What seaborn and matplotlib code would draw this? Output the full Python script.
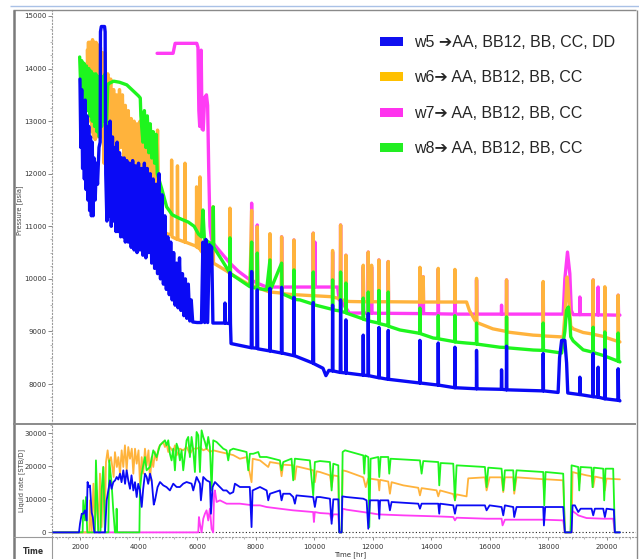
import matplotlib
matplotlib.use("Agg")
import matplotlib.pyplot as plt
import seaborn as sns
import pandas as pd
from matplotlib.patches import Patch
from matplotlib.lines import Line2D
from matplotlib.ticker import MultipleLocator
from matplotlib.font_manager import FontProperties

# ---------------- data ----------------
WELLS = ["w5", "w6", "w7", "w8"]
LEGEND_LABELS = ["w5 \u2794AA, BB12, BB, CC, DD", "w6\u2794 AA, BB12, BB, CC",
                 "w7\u2794 AA, BB12, BB, CC", "w8\u2794 AA, BB12, BB, CC"]
LINE_COLORS = {"w5": "#0a0af5", "w6": "#ffb33c", "w7": "#ff3cf5", "w8": "#1ef51e"}
PATCH_COLORS = ["#1010f0", "#ffc000", "#ff33ee", "#22ee22"]
DRAW_ORDER = ["w7", "w6", "w8", "w5"]

# pressure [psia] vs time [hr]
W5_PRESSURE = [
    (2000, 13800), (2030, 12500), (2060, 13600), (2090, 12100), (2120, 13300), (2150, 11900),
    (2180, 13400), (2210, 11700), (2240, 13100), (2270, 11500), (2300, 12900), (2330, 11300),
    (2360, 12700), (2390, 11200), (2420, 12600), (2450, 11200), (2480, 12300), (2520, 11500),
    (2560, 12200), (2600, 11800), (2650, 12500), (2690, 12600), (2700, 14700), (2730, 14800),
    (2840, 14800), (2860, 14700), (2880, 12000), (2920, 11100), (2950, 12900), (2990, 11200),
    (3030, 13000), (3070, 11000), (3110, 12700), (3150, 11100), (3190, 12500), (3230, 10900),
    (3270, 12600), (3310, 10900), (3350, 12400), (3390, 10800), (3430, 12300), (3470, 10800),
    (3510, 12300), (3550, 10700), (3600, 12250), (3650, 10700), (3700, 12200), (3750, 10600),
    (3800, 12250), (3850, 10550), (3900, 12150), (3950, 10500), (4000, 12200), (4050, 10550),
    (4100, 12100), (4150, 10450), (4200, 12200), (4250, 10400), (4300, 12100), (4350, 10500),
    (4400, 12000), (4450, 10300), (4500, 11900), (4550, 10200), (4600, 11800), (4650, 10100),
    (4700, 12000), (4750, 10000), (4800, 11600), (4850, 9900), (4900, 11200), (4950, 9800),
    (5000, 10800), (5050, 9700), (5100, 10700), (5150, 9600), (5200, 10500), (5250, 9500),
    (5300, 10300), (5350, 9450), (5400, 10400), (5450, 9400), (5500, 10100), (5550, 9300),
    (5600, 10000), (5650, 9250), (5700, 9900), (5750, 9200), (5800, 9600), (5850, 9180),
    (6000, 9170), (6150, 9170), (6200, 10700), (6260, 9170), (6300, 10750), (6360, 9170),
    (6420, 10650), (6500, 10600), (6540, 9160), (6940, 9160), (6953, 9540), (6970, 9160),
    (7110, 9150), (7124, 10120), (7140, 9150), (7160, 8770), (7850, 8690), (7863, 10140),
    (7880, 8690), (8040, 8680), (8056, 9790), (8070, 8670), (8480, 8630), (8489, 9820),
    (8500, 8630), (8880, 8590), (8887, 9840), (8900, 8590), (9300, 8540), (9308, 9650),
    (9320, 8540), (9950, 8400), (9968, 9550), (9980, 8390), (10300, 8300), (10400, 8160),
    (10500, 8260), (10620, 8250), (10628, 9500), (10640, 8250), (10890, 8220), (10901, 9600),
    (10915, 8220), (11075, 8210), (11083, 9220), (11095, 8210), (11665, 8170), (11675, 8930),
    (11685, 8170), (11840, 8160), (11846, 9340), (11855, 8160), (12200, 8120), (12210, 9075),
    (12220, 8120), (12520, 8090), (12529, 9020), (12540, 8090), (13600, 8020), (13610, 8830),
    (13620, 8020), (14230, 7980), (14236, 8780), (14245, 7980), (14800, 7930), (14805, 8700),
    (14815, 7930), (15540, 7910), (15544, 8640), (15555, 7910), (16390, 7900), (16398, 8270),
    (16410, 7900), (16560, 7890), (16569, 8720), (16580, 7890), (17815, 7870), (17820, 8580),
    (17830, 7870), (18330, 7840), (18380, 8500), (18450, 8830), (18560, 8830), (18620, 8400),
    (18660, 7830), (19065, 7800), (19072, 8130), (19080, 7800), (19520, 7760), (19527, 8580),
    (19535, 7760), (19690, 7750), (19698, 8320), (19705, 7750), (19920, 7720), (19926, 8650),
    (19935, 7720), (20375, 7690), (20381, 8290), (20395, 7690), (20440, 7680),
]
W6_PRESSURE = [
    (2250, 14350), (2270, 13500), (2290, 14500), (2310, 13200), (2330, 14500), (2350, 13000),
    (2370, 14500), (2400, 12800), (2430, 14550), (2460, 12700), (2490, 14500), (2520, 12650),
    (2550, 14500), (2580, 12700), (2620, 14450), (2660, 12800), (2700, 14400), (2740, 12700),
    (2780, 14300), (2820, 12200), (2860, 14300), (2900, 12100), (2950, 13900), (3000, 12300),
    (3050, 13800), (3100, 12200), (3150, 13600), (3200, 12400), (3250, 13500), (3300, 12300),
    (3350, 13600), (3400, 12500), (3450, 13500), (3500, 12300), (3550, 13300), (3600, 12200),
    (3650, 13200), (3700, 12100), (3750, 13050), (3800, 12200), (3850, 13000), (3900, 12000),
    (3950, 12950), (4000, 11900), (4050, 13000), (4100, 11800), (4150, 12900), (4200, 11700),
    (4250, 12800), (4300, 11600), (4350, 12700), (4400, 11500), (4450, 12800), (4500, 11300),
    (4550, 12700), (4600, 11200), (4650, 12830), (4700, 11000), (4850, 10900), (5000, 10850),
    (5120, 10850), (5130, 12260), (5145, 10800), (5320, 10750), (5330, 12150), (5345, 10750),
    (5580, 10700), (5587, 12200), (5600, 10700), (5975, 10620), (5983, 11750), (5995, 10600),
    (6090, 10580), (6099, 11940), (6110, 10550), (6327, 10400), (6535, 10350), (6543, 11370),
    (6560, 10300), (7009, 10150), (7110, 10110), (7123, 11345), (7140, 10100), (7806, 9880),
    (7863, 11300), (7880, 9870), (8050, 9840), (8056, 10990), (8070, 9830), (8480, 9750),
    (8489, 10860), (8500, 9750), (8880, 9730), (8887, 10800), (8900, 9720), (9300, 9700),
    (9308, 10740), (9320, 9700), (9960, 9680), (9968, 10870), (9980, 9680), (10620, 9660),
    (10628, 10540), (10640, 9655), (10890, 9620), (10901, 11025), (10915, 9610), (11075, 9580),
    (11083, 10450), (11095, 9575), (11200, 9570), (11665, 9565), (11675, 10260), (11690, 9565),
    (11840, 9565), (11846, 10510), (11860, 9565), (11955, 9565), (11960, 10260), (11970, 9565),
    (12200, 9565), (12210, 10360), (12220, 9565), (12520, 9565), (12529, 10330), (12540, 9565),
    (13600, 9560), (13610, 10220), (13620, 9560), (13715, 9560), (13724, 10040), (13735, 9560),
    (14230, 9560), (14236, 10200), (14245, 9560), (14800, 9560), (14805, 10180), (14815, 9560),
    (15203, 9560), (15300, 9400), (15500, 9200), (15540, 9180), (15544, 10010), (15555, 9170),
    (16100, 9050), (16560, 9000), (16569, 9980), (16580, 8990), (17479, 8930), (17815, 8920),
    (17820, 9950), (17830, 8915), (18503, 8895), (18560, 9300), (18640, 10035), (18700, 9600),
    (18760, 9100), (18845, 9050), (19186, 8980), (19520, 8950), (19527, 9980), (19535, 8945),
    (19920, 8900), (19926, 9850), (19935, 8890), (20375, 8810), (20381, 9690), (20395, 8805),
    (20440, 8800),
]
W7_PRESSURE = [
    (4634, 14290), (5180, 14290), (5250, 14480), (5990, 14480), (6030, 14400), (6060, 13200),
    (6090, 12900), (6140, 14350), (6170, 12850), (6210, 12830), (6260, 13450), (6320, 13500),
    (6360, 13300), (6400, 12000), (6440, 11000), (6480, 10800), (6520, 10700), (6668, 10600),
    (7000, 10380), (7123, 10300), (7400, 10150), (7806, 9980), (7850, 9975), (7863, 11440),
    (7880, 9970), (8050, 9920), (8056, 11025), (8070, 9915), (8375, 9845), (8480, 9845),
    (8489, 10835), (8500, 9845), (8880, 9845), (8887, 10800), (8900, 9845), (9300, 9845),
    (9308, 10740), (9320, 9845), (9960, 9845), (9968, 10870), (9980, 9845), (10015, 9845),
    (10025, 10700), (10035, 9845), (10620, 9845), (10628, 10510), (10640, 9845), (10800, 9845),
    (10850, 9600), (10890, 9600), (10901, 11025), (10915, 9580), (11075, 9450), (11083, 10450),
    (11095, 9440), (11200, 9350), (11665, 9350), (11675, 10225), (11690, 9350), (11840, 9350),
    (11846, 10510), (11860, 9350), (11955, 9350), (11960, 10225), (11970, 9350), (12200, 9345),
    (12210, 10360), (12220, 9345), (12520, 9345), (12529, 10330), (12540, 9345), (13600, 9340),
    (13610, 10205), (13620, 9340), (13715, 9340), (13724, 10040), (13735, 9340), (14230, 9335),
    (14236, 10180), (14245, 9335), (14800, 9330), (14805, 10160), (14815, 9330), (15540, 9330),
    (15544, 9980), (15555, 9330), (16390, 9330), (16398, 9500), (16410, 9330), (16560, 9330),
    (16569, 9980), (16580, 9330), (17815, 9330), (17820, 9920), (17830, 9330), (18503, 9330),
    (18560, 10000), (18650, 10510), (18730, 10100), (18780, 9400), (18845, 9320), (19065, 9320),
    (19072, 9655), (19080, 9320), (19520, 9320), (19527, 9980), (19535, 9320), (19690, 9315),
    (19698, 9845), (19705, 9315), (19920, 9315), (19926, 9820), (19935, 9315), (20375, 9310),
    (20381, 9690), (20395, 9310), (20440, 9310),
]
W8_PRESSURE = [
    (1990, 14220), (2030, 13600), (2060, 14150), (2100, 13400), (2140, 14100), (2180, 13300),
    (2220, 14050), (2260, 13200), (2300, 14000), (2340, 13100), (2380, 13950), (2420, 13000),
    (2460, 13900), (2500, 12900), (2540, 13900), (2580, 12800), (2620, 13850), (2660, 12700),
    (2700, 13800), (2740, 12900), (2780, 13850), (2820, 13000), (2860, 13900), (2900, 12800),
    (2950, 13700), (3000, 13720), (3150, 13760), (3350, 13740), (3600, 13690), (3850, 13560),
    (4000, 13480), (4060, 13440), (4080, 13100), (4150, 12600), (4200, 13200), (4250, 12500),
    (4300, 13100), (4350, 12400), (4400, 12950), (4450, 12300), (4500, 12800), (4550, 12200),
    (4600, 12750), (4640, 12000), (4800, 11700), (4960, 11370), (5150, 11220), (5400, 11150),
    (5700, 11080), (5900, 11000), (6050, 10850), (6150, 10800), (6200, 11310), (6250, 10750),
    (6540, 10650), (6554, 11370), (6570, 10600), (6800, 10400), (7110, 10120), (7123, 10780),
    (7140, 10100), (7806, 9850), (7863, 10700), (7880, 9840), (8050, 9820), (8056, 10490),
    (8070, 9820), (8375, 9790), (8489, 10360), (8500, 9780), (8887, 10300), (8900, 9720),
    (9300, 9620), (9308, 10170), (9320, 9610), (9513, 9600), (9960, 9520), (9968, 10130),
    (9980, 9510), (10620, 9420), (10628, 9980), (10640, 9410), (10890, 9390), (10901, 10130),
    (10915, 9380), (11075, 9360), (11083, 9920), (11095, 9350), (11665, 9240), (11675, 9635),
    (11690, 9230), (11840, 9210), (11846, 9750), (11860, 9200), (12200, 9160), (12210, 9780),
    (12220, 9150), (12520, 9110), (12529, 9750), (12540, 9100), (12927, 9028), (13600, 8965),
    (13610, 9445), (13620, 8960), (14065, 8875), (14230, 8865), (14236, 9300), (14245, 8860),
    (14800, 8805), (14805, 9300), (14815, 8800), (15203, 8780), (15540, 8765), (15544, 9160),
    (15555, 8760), (16341, 8700), (16560, 8695), (16569, 9275), (16580, 8690), (17479, 8647),
    (17815, 8640), (17820, 9160), (17830, 8640), (18450, 8590), (18560, 9000), (18617, 9400),
    (18680, 9465), (18731, 9200), (18760, 8900), (18845, 8820), (19186, 8650), (19520, 8605),
    (19527, 9080), (19535, 8600), (19920, 8535), (19926, 8990), (19935, 8530), (20375, 8435),
    (20381, 8970), (20395, 8430), (20440, 8420),
]

# liquid rate [STB/D] vs time [hr]
W5_RATE = [
    (1045, 0), (1967, 0), (2001, 2600), (2060, 5650), (2115, 5650), (2172, 6670), (2229, 3600),
    (2260, 15250), (2300, 13700), (2342, 14200), (2400, 6000), (2440, 4600), (2490, 0),
    (2855, 0), (2912, 9700), (2969, 12700), (3026, 15750), (3080, 13200), (3139, 15200),
    (3200, 15750), (3254, 16770), (3310, 16000), (3367, 17780), (3420, 15200), (3481, 18790),
    (3540, 14700), (3595, 18800), (3650, 15700), (3709, 13200), (3760, 17270), (3823, 12700),
    (3880, 15200), (3937, 10700), (3990, 14700), (4050, 12700), (4108, 7700), (4160, 13200),
    (4220, 17770), (4278, 16770), (4330, 14700), (4392, 17780), (4450, 15750), (4520, 8400),
    (4563, 9700), (4650, 13700), (4733, 15250), (4845, 14240), (4958, 13700), (5072, 12700),
    (5186, 14750), (5300, 13740), (5413, 13740), (5527, 14750), (5641, 15250), (5812, 14750),
    (5869, 12700), (5983, 16770), (6097, 14750), (6131, 9700), (6211, 16770), (6325, 15750),
    (6438, 15250), (6473, 5650), (6530, 13740), (6610, 15250), (6666, 14750), (6780, 13740),
    (6894, 12700), (7007, 12700), (7121, 11700), (7235, 12200), (7292, 14750), (7462, 13740),
    (7800, 13740), (7860, 1600), (7895, 12700), (8148, 13740), (8376, 12700), (8430, 9700),
    (8490, 11700), (8828, 12700), (8885, 9700), (8940, 11700), (9169, 11700), (9283, 10700),
    (9340, 8690), (9396, 11200), (9966, 10700), (10023, 7700), (10080, 10700), (10197, 10700),
    (10538, 10200), (10595, 2600), (10652, 10000), (10823, 10000), (10857, 0), (10937, 0),
    (10960, 10900), (11107, 10700), (11676, 10200), (11790, 9700), (11847, 1100), (11904, 9700),
    (12188, 9700), (12222, 4140), (12250, 9700), (12529, 9700), (12586, 6670), (12643, 9200),
    (13554, 8690), (13611, 7170), (13668, 8690), (14237, 8690), (14270, 5650), (14300, 8690),
    (14749, 8180), (14806, 5650), (14863, 8180), (15830, 8180), (15887, 6670), (15990, 8180),
    (16399, 7680), (16456, 5150), (16513, 8180), (16797, 7680), (16831, 4650), (16911, 7680),
    (17822, 7680), (17845, 2100), (17890, 7680), (18504, 7680), (18561, 0), (18789, 0),
    (18823, 8180), (18903, 8180), (19017, 6160), (19100, 7170), (19301, 7170), (19472, 7170),
    (19529, 5150), (19586, 7170), (19870, 7170), (19927, 4650), (19984, 7170), (20234, 6870),
    (20268, 0), (20441, 0),
]
W6_RATE = [
    (1045, 0), (2319, 0), (2342, 9700), (2400, 0), (2460, 14750), (2517, 2600), (2570, 12700),
    (2630, 600), (2683, 17800), (2740, 1600), (2797, 19800), (2850, 2100), (2888, 21300),
    (2945, 24850), (2990, 21300), (3060, 22800), (3150, 16770), (3195, 24300), (3260, 19800),
    (3310, 22800), (3367, 17780), (3424, 24850), (3480, 19800), (3536, 26360), (3595, 18800),
    (3650, 25850), (3709, 22300), (3770, 25350), (3823, 17780), (3880, 25350), (3937, 20800),
    (4000, 24850), (4050, 14700), (4108, 22800), (4160, 17780), (4220, 25350), (4278, 20300),
    (4340, 24850), (4392, 15700), (4450, 22800), (4504, 19800), (4563, 24340), (4620, 21800),
    (4680, 25350), (4731, 26360), (4845, 27370), (4902, 25850), (4958, 26870), (5015, 24340),
    (5072, 25850), (5186, 24340), (5243, 26360), (5300, 23300), (5413, 25350), (5527, 24850),
    (5641, 25850), (5755, 23800), (5869, 25350), (5983, 25350), (6097, 25750), (6211, 24850),
    (6325, 25350), (6438, 24340), (6552, 24850), (6780, 24340), (7007, 23900), (7235, 23400),
    (7462, 22300), (7690, 22800), (7860, 15200), (7900, 22300), (8148, 21800), (8430, 19800),
    (8490, 21300), (8828, 20800), (8885, 17000), (8940, 20500), (9283, 20300), (9340, 16000),
    (9396, 20000), (9966, 18800), (10023, 15200), (10080, 18500), (10197, 18270),
    (10538, 17270), (10595, 13700), (10652, 17270), (10823, 17000), (10857, 0), (10937, 0),
    (10971, 18790), (11107, 18500), (11676, 16670), (11760, 13700), (11847, 16360),
    (12188, 15900), (12222, 12700), (12250, 15900), (12529, 15400), (12586, 11700),
    (12643, 15200), (13042, 14240), (13554, 13500), (13611, 11200), (13668, 13400),
    (14180, 12730), (14237, 10900), (14300, 12700), (14749, 11600), (14806, 9700),
    (14863, 11500), (15204, 10900), (15261, 16360), (15830, 16670), (15887, 12700),
    (15990, 16670), (16399, 16670), (16456, 12200), (16513, 16670), (16797, 16670),
    (16831, 11700), (16911, 16670), (17822, 16100), (17845, 12700), (17890, 16100),
    (18504, 15760), (18561, 0), (18789, 0), (18823, 18270), (19017, 17800), (19050, 14700),
    (19100, 17700), (19301, 17270), (19472, 17000), (19529, 13700), (19586, 16900),
    (19870, 16360), (19927, 12700), (19984, 16300), (20441, 16060),
]
W7_RATE = [
    (1045, 0), (6040, 0), (6063, 4650), (6097, 2600), (6154, 0), (6211, 4140), (6268, 5650),
    (6324, 6670), (6381, 3600), (6438, 7170), (6495, 1000), (6552, 0), (6580, 11700),
    (6609, 12700), (6666, 9200), (6780, 9700), (7007, 8690), (7235, 8690), (7462, 8690),
    (7918, 8180), (8148, 8180), (8373, 7680), (8828, 7170), (9283, 6670), (9966, 6160),
    (9990, 3130), (10020, 6160), (10197, 5860), (10538, 5660), (10595, 3640), (10652, 5450),
    (10823, 5450), (10857, 0), (10937, 0), (10971, 7170), (11107, 6870), (11904, 5860),
    (12188, 5450), (13042, 5150), (14180, 4850), (14749, 4650), (14806, 3640), (14863, 4440),
    (15887, 4140), (16399, 4140), (16433, 2120), (16513, 3840), (17822, 3840), (18504, 3640),
    (18561, 0), (18755, 0), (18789, 6670), (18950, 5660), (19017, 5150), (19301, 4340),
    (19870, 4140), (20211, 4140), (20268, 0), (20441, 0),
]
W8_RATE = [
    (1045, 0), (2091, 0), (2114, 9700), (2171, 3600), (2205, 10700), (2250, 0), (2512, 0),
    (2546, 21800), (2592, 9700), (2626, 0), (2700, 0), (2740, 12700), (2797, 19800), (2853, 0),
    (2970, 0), (3001, 21800), (3081, 14700), (3138, 6670), (3195, 0), (3240, 0), (3252, 7170),
    (3270, 0), (4030, 0), (4048, 12700), (4105, 17780), (4219, 22800), (4276, 18790),
    (4390, 19800), (4504, 24850), (4617, 22800), (4731, 26360), (4902, 27880), (4958, 26360),
    (5015, 27880), (5072, 23800), (5129, 21800), (5186, 25350), (5243, 18790), (5300, 26870),
    (5356, 25350), (5413, 21800), (5470, 24850), (5527, 18790), (5641, 27880), (5698, 28900),
    (5755, 22800), (5812, 28900), (5869, 24850), (5926, 18280), (5983, 30400), (6040, 29400),
    (6097, 18280), (6154, 30900), (6211, 28900), (6268, 27370), (6325, 25350), (6381, 28900),
    (6438, 25850), (6495, 12700), (6552, 27880), (6666, 27370), (6780, 26360), (6894, 25350),
    (7007, 24850), (7064, 21800), (7121, 24850), (7235, 25350), (7462, 24850), (7690, 24340),
    (7747, 18790), (7804, 23800), (7918, 23800), (8089, 24340), (8146, 22830), (8373, 22830),
    (8828, 21800), (8885, 18790), (8942, 21300), (9226, 22320), (9283, 15750), (9340, 22320),
    (9852, 21800), (9966, 11200), (10023, 21300), (10197, 21600), (10538, 21300),
    (10595, 12700), (10652, 20800), (10823, 20300), (10857, 0), (10937, 0), (10971, 24340),
    (11051, 24850), (11676, 23300), (11710, 17780), (11744, 23300), (11847, 22800),
    (11881, 1600), (11926, 22300), (12188, 22830), (12222, 16770), (12268, 22830),
    (12529, 22830), (12563, 17780), (12609, 22300), (13611, 21800), (13668, 17780),
    (13725, 21600), (14237, 21300), (14271, 14240), (14317, 21000), (14749, 20800),
    (14806, 9700), (14863, 20300), (15830, 19800), (15887, 13700), (15944, 19600),
    (16399, 19290), (16456, 12700), (16513, 18790), (16797, 18790), (16831, 12700),
    (16911, 18790), (17822, 18280), (17856, 8180), (17902, 18280), (18504, 17780), (18561, 0),
    (18755, 0), (18789, 20300), (19017, 19800), (19051, 12700), (19097, 19800), (19472, 19600),
    (19506, 13700), (19552, 19600), (19870, 19290), (19904, 9700), (19950, 19290),
    (20211, 19290), (20268, 0), (20441, 0),
]

PRESSURE_TICKS = [8000, 9000, 10000, 11000, 12000, 13000, 14000, 15000]
RATE_TICKS = [0, 10000, 20000, 30000]
TIME_TICKS = [2000, 4000, 6000, 8000, 10000, 12000, 14000, 16000, 18000, 20000]


def to_frame(series_by_well, col):
    rows = []
    for well, pts in series_by_well.items():
        for t, v in pts:
            rows.append({"time": t, col: v, "well": well})
    return pd.DataFrame(rows)


pressure_df = to_frame({"w5": W5_PRESSURE, "w6": W6_PRESSURE, "w7": W7_PRESSURE, "w8": W8_PRESSURE}, "pressure")
rate_df = to_frame({"w5": W5_RATE, "w6": W6_RATE, "w7": W7_RATE, "w8": W8_RATE}, "rate")

# ---------------- figure ----------------
sns.set_theme(style="white")
plt.rcParams["font.family"] = ["DejaVu Sans"]

W, H = 639, 559
fig = plt.figure(figsize=(W / 100, H / 100), dpi=100)
fig.patch.set_facecolor("white")


def fx(x):
    return x / W


def fy(y):
    return 1 - y / H


ax1 = fig.add_axes([fx(52), fy(424), fx(636) - fx(52), fy(10) - fy(424)])
ax2 = fig.add_axes([fx(52), fy(537), fx(636) - fx(52), fy(424) - fy(537)])

XLIM = (1045, 20990)

sns.lineplot(data=pressure_df, x="time", y="pressure", hue="well", hue_order=DRAW_ORDER,
             palette=LINE_COLORS, sort=False, estimator=None, legend=False, linewidth=2.4,
             ax=ax1)
ax2.axhline(0, color="#222222", lw=0.8, ls=(0, (1, 2)), zorder=0)
sns.lineplot(data=rate_df, x="time", y="rate", hue="well", hue_order=DRAW_ORDER,
             palette=LINE_COLORS, sort=False, estimator=None, legend=False, linewidth=1.3,
             ax=ax2)

for ax in (ax1, ax2):
    ax.set_xlim(*XLIM)
    ax.set_facecolor("white")
    ax.set_xlabel("")
    ax.set_ylabel("")
    for s in ("top", "right", "bottom"):
        ax.spines[s].set_visible(False)
    ax.spines["left"].set_color("#9a9a9a")
    ax.spines["left"].set_linestyle((0, (1, 2)))
    ax.spines["left"].set_linewidth(0.8)
    ax.tick_params(axis="y", which="major", left=True, length=3, width=0.6, color="#777777",
                   labelsize=5, labelcolor="#333333", pad=1)
    ax.tick_params(axis="y", which="minor", left=True, length=1.5, width=0.5, color="#999999")

ax1.set_ylim(7240, 15114)
ax1.set_yticks(PRESSURE_TICKS)
ax1.yaxis.set_minor_locator(MultipleLocator(250))
ax1.tick_params(axis="x", which="both", bottom=False, labelbottom=False)

ax2.set_ylim(-1400, 32820)
ax2.set_yticks(RATE_TICKS)
ax2.yaxis.set_minor_locator(MultipleLocator(2500))
ax2.set_xticks(TIME_TICKS)
ax2.xaxis.set_minor_locator(MultipleLocator(400))
ax2.spines["bottom"].set_visible(True)
ax2.spines["bottom"].set_color("#9a9a9a")
ax2.spines["bottom"].set_linestyle((0, (1, 2)))
ax2.spines["bottom"].set_linewidth(0.8)
ax2.tick_params(axis="x", which="major", bottom=True, length=2.5, width=0.6, color="#777777",
                labelsize=5, labelcolor="#333333", pad=2.5)
ax2.tick_params(axis="x", which="minor", bottom=True, length=1.5, width=0.5, color="#999999")

# legend
leg_font = FontProperties(family=["Liberation Sans", "DejaVu Sans"], size=11.5)
handles = [Patch(facecolor=c, edgecolor="none") for c in PATCH_COLORS]
ax1.legend(handles, LEGEND_LABELS, loc="upper left", bbox_to_anchor=(fx(380), fy(35)),
           bbox_transform=fig.transFigure, frameon=False, prop=leg_font,
           handlelength=1.45, handleheight=0.5, handletextpad=0.65, labelspacing=1.28,
           borderpad=0, borderaxespad=0)


# frame decorations
def fline(x0, y0, x1, y1, color, lw, ls="-"):
    fig.add_artist(Line2D([fx(x0), fx(x1)], [fy(y0), fy(y1)], transform=fig.transFigure,
                          color=color, lw=lw, ls=ls, solid_capstyle="butt"))


fline(10, 5.5, 639, 5.5, "#a9c1e6", 1.0)
fline(13, 10, 636, 10, "#8a8a8a", 1.0)
fline(14, 10, 14, 559, "#7a7a7a", 1.8)
fline(636.5, 10, 636.5, 559, "#8a8a8a", 1.0)
fline(13, 424, 636, 424, "#8a8a8a", 1.4)
fline(13, 536.5, 52, 536.5, "#9a9a9a", 0.8)
fline(52, 537, 52, 559, "#9a9a9a", 0.8)

fig.text(fx(20), fy(210), "Pressure [psia]", rotation=90, ha="center", va="center",
         fontsize=4.8, color="#444444")
fig.text(fx(22), fy(480), "Liquid rate [STB/D]", rotation=90, ha="center", va="center",
         fontsize=4.8, color="#444444")
fig.text(fx(33), fy(551), "Time", ha="center", va="center", fontsize=5.5,
         fontweight="bold", color="#333333")
fig.text(fx(350), fy(558.5), "Time [hr]", ha="center", va="bottom", fontsize=5,
         color="#333333")

fig.savefig("out.png", dpi=100)
